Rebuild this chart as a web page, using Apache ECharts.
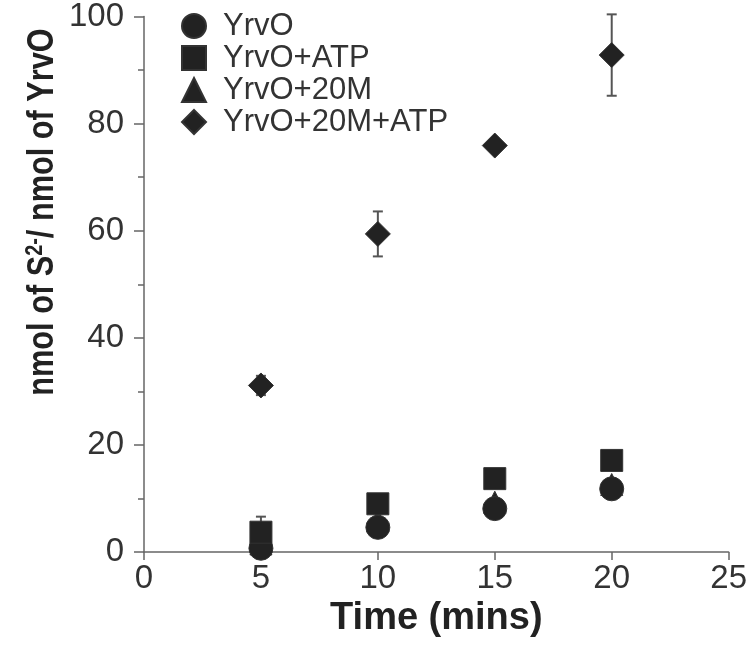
<!DOCTYPE html>
<html><head><meta charset="utf-8">
<script src="https://cdn.jsdelivr.net/npm/echarts@6/dist/echarts.min.js"></script>
<style>html,body{margin:0;padding:0;background:#fff}#c{width:750px;height:650px}</style>
</head><body><div id="c"></div>
<script>
// ---- data ----
const seriesNames = ['YrvO', 'YrvO+ATP', 'YrvO+20M', 'YrvO+20M+ATP'];
const times = [5, 10, 15, 20];
const yrvO = [0.7, 4.6, 8.1, 11.8];
const yrvOErr = [0.5, 0.6, 0.6, 0.8];
const yrvOATP = [3.7, 9.0, 13.7, 17.1];
const yrvOATPErr = [2.9, 0.8, 0.8, 0.8];
const yrvO20M = [1.5, 5.8, 9.3, 12.6];
const yrvO20MErr = [0.5, 0.6, 0.6, 0.8];
const yrvO20MATP = [31.1, 59.4, 75.9, 92.8];
const yrvO20MATPErr = [1.8, 4.2, 0.8, 7.6];
const xTicks = [0, 5, 10, 15, 20, 25];
const yTicks = [0, 20, 40, 60, 80, 100];
const xTitle = 'Time (mins)';

const markerColor = '#222';
const errColor = '#555';
const font = '"Liberation Sans", Arial, sans-serif';

const pts = (vals) => times.map((t, i) => [t, vals[i]]);
const errPts = (vals, errs) => times.map((t, i) => [t, vals[i], errs[i]]);

function errSeries(vals, errs) {
  return {
    type: 'custom', silent: true, z: 1,
    data: errPts(vals, errs),
    renderItem: function (params, api) {
      const x = api.value(0), y = api.value(1), e = api.value(2);
      const top = api.coord([x, y + e]);
      const bot = api.coord([x, y - e]);
      const cw = 5;
      const st = { stroke: errColor, lineWidth: 2 };
      return {
        type: 'group',
        children: [
          { type: 'line', shape: { x1: top[0], y1: top[1], x2: bot[0], y2: bot[1] }, style: st },
          { type: 'line', shape: { x1: top[0] - cw, y1: top[1], x2: top[0] + cw, y2: top[1] }, style: st },
          { type: 'line', shape: { x1: bot[0] - cw, y1: bot[1], x2: bot[0] + cw, y2: bot[1] }, style: st }
        ]
      };
    }
  };
}

function scat(name, vals, symbol, size, z) {
  return {
    name: name, type: 'scatter', symbol: symbol, symbolSize: size, z: z,
    data: pts(vals),
    itemStyle: { color: markerColor, opacity: 1, borderColor: '#333', borderWidth: 1 }
  };
}

const chart = echarts.init(document.getElementById('c'), null, { renderer: 'canvas' });
chart.setOption({
  animation: false,
  backgroundColor: '#fff',
  grid: { left: 144, right: 18, top: 14, bottom: 98, containLabel: false },
  legend: {
    orient: 'vertical', left: 176, top: 5, itemGap: 0,
    itemWidth: 24, itemHeight: 24,
    data: [
      { name: seriesNames[0], icon: 'circle' },
      { name: seriesNames[1], icon: 'rect' },
      { name: seriesNames[2], icon: 'triangle' },
      { name: seriesNames[3], icon: 'diamond' }
    ],
    textStyle: { fontFamily: font, fontSize: 31, color: '#333', lineHeight: 32, padding: [0, 0, 0, 12] }
  },
  xAxis: {
    type: 'value', min: xTicks[0], max: xTicks[xTicks.length - 1], interval: xTicks[1] - xTicks[0],
    name: xTitle, nameLocation: 'middle', nameGap: 36,
    nameTextStyle: { fontFamily: font, fontSize: 38, fontWeight: 'bold', color: '#222' },
    axisLine: { lineStyle: { color: '#666', width: 1.5 } },
    axisTick: { show: true, inside: false, length: 8, lineStyle: { color: '#666', width: 1.5 } },
    axisLabel: { fontFamily: font, fontSize: 33, color: '#333', margin: 10 },
    splitLine: { show: false }
  },
  yAxis: {
    type: 'value', min: yTicks[0], max: yTicks[yTicks.length - 1], interval: yTicks[1] - yTicks[0],
    axisLine: { show: true, lineStyle: { color: '#666', width: 1.5 } },
    axisTick: { show: true, inside: false, length: 10, lineStyle: { color: '#666', width: 1.5 } },
    minorTick: { show: true, splitNumber: 2, length: 6, lineStyle: { color: '#666', width: 1.5 } },
    axisLabel: { fontFamily: font, fontSize: 33, color: '#333', margin: 20 },
    splitLine: { show: false }
  },
  graphic: [{
    type: 'text', x: 43, y: 212, rotation: Math.PI / 2, scaleX: 0.83, scaleY: 1,
    style: {
      text: 'nmol of S{sup|2-}/ nmol of YrvO',
      fontFamily: font, fontSize: 37, fontWeight: 'bold', fill: '#222',
      align: 'center', verticalAlign: 'middle',
      rich: { sup: { fontFamily: font, fontSize: 24, fontWeight: 'bold', fill: '#222', verticalAlign: 'top', padding: [0, 0, 16, 0] } }
    }
  }],
  series: [
    errSeries(yrvO20M, yrvO20MErr),
    errSeries(yrvO, yrvOErr),
    errSeries(yrvOATP, yrvOATPErr),
    errSeries(yrvO20MATP, yrvO20MATPErr),
    scat(seriesNames[2], yrvO20M, 'triangle', 22, 2),
    scat(seriesNames[0], yrvO, 'circle', 24, 3),
    scat(seriesNames[1], yrvOATP, 'rect', 22, 4),
    scat(seriesNames[3], yrvO20MATP, 'diamond', 25, 5)
  ]
});
</script>
</body></html>
